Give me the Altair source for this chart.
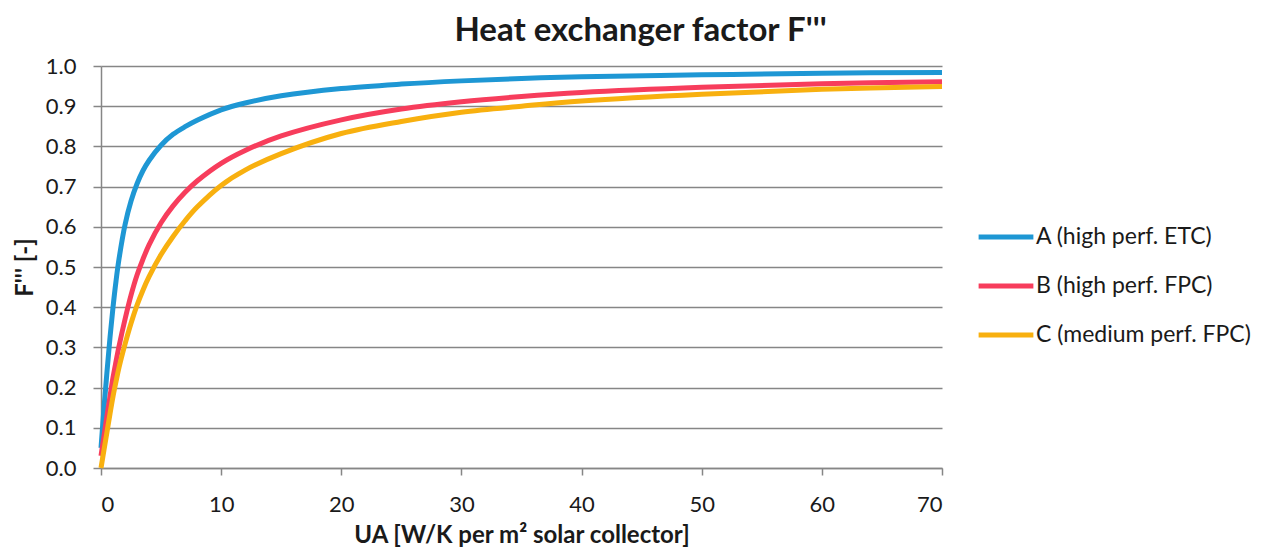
import altair as alt
import pandas as pd

ua = [0, 0.25, 0.5, 0.75, 1, 1.25, 1.5, 2, 2.5, 3, 3.5, 4, 5, 6, 7, 8, 10, 12, 15, 20, 25, 30, 35, 40, 50, 60, 70]
f_a = [0.05, 0.15, 0.24, 0.325, 0.40, 0.465, 0.52, 0.605, 0.664, 0.707, 0.74, 0.765, 0.803, 0.83, 0.849, 0.865, 0.891, 0.908, 0.926, 0.944, 0.955, 0.963, 0.969, 0.973, 0.978, 0.982, 0.984]
f_b = [0.03, 0.08, 0.13, 0.178, 0.225, 0.265, 0.303, 0.37, 0.43, 0.48, 0.52, 0.555, 0.61, 0.652, 0.686, 0.714, 0.758, 0.79, 0.826, 0.866, 0.893, 0.911, 0.924, 0.934, 0.947, 0.956, 0.961]
f_c = [0.0, 0.045, 0.09, 0.135, 0.178, 0.215, 0.25, 0.308, 0.36, 0.405, 0.443, 0.476, 0.531, 0.576, 0.615, 0.649, 0.703, 0.741, 0.782, 0.832, 0.862, 0.885, 0.900, 0.913, 0.93, 0.942, 0.949]

series_names = ["A (high perf. ETC)", "B (high perf. FPC)", "C (medium perf. FPC)"]
series_colors = ["#1E97D4", "#F73D5C", "#F8B00F"]

x_ticks = [0, 10, 20, 30, 40, 50, 60, 70]
y_ticks = [0.0, 0.1, 0.2, 0.3, 0.4, 0.5, 0.6, 0.7, 0.8, 0.9, 1.0]

rows = []
for name, vals in zip(series_names, [f_a, f_b, f_c]):
    for x, y in zip(ua, vals):
        rows.append({"UA": x, "F": y, "Series": name})
df = pd.DataFrame(rows)

FONT = "Lato"
GRAY = "#868686"
TXT = "#1a1a1a"

chart = alt.Chart(df).mark_line(strokeWidth=5, interpolate="catmull-rom").encode(
    x=alt.X("UA:Q",
            scale=alt.Scale(domain=[0, 70], nice=False, zero=True),
            axis=alt.Axis(values=x_ticks, title="UA [W/K per m² solar collector]",
                          grid=False, tickSize=7, labelPadding=19,
                          titlePadding=8)),
    y=alt.Y("F:Q",
            scale=alt.Scale(domain=[0, 1.0], nice=False),
            axis=alt.Axis(values=y_ticks, format=".1f", title="F''' [-]",
                          grid=True, tickSize=8, labelPadding=17,
                          titlePadding=8)),
    color=alt.Color("Series:N",
                    scale=alt.Scale(domain=series_names, range=series_colors),
                    legend=alt.Legend(title=None, orient="none", legendX=875, legendY=141,
                                      symbolType="stroke", symbolSize=3000,
                                      symbolStrokeWidth=5, labelFontSize=23,
                                      labelFont=FONT, labelColor=TXT, labelLimit=400,
                                      rowPadding=7, labelOffset=0)),
).properties(
    width=841, height=402,
    title=alt.TitleParams("Heat exchanger factor F'''", fontSize=33, font=FONT,
                          fontWeight="bold", color=TXT, dx=119, offset=7),
    padding={"left": 93, "top": 58, "right": 324, "bottom": 82},
    autosize=alt.AutoSizeParams(type="none"),
).configure_axis(
    labelFont=FONT, labelFontSize=22, labelColor=TXT,
    titleFont=FONT, titleFontSize=24, titleFontWeight="bold", titleColor=TXT,
    domainColor=GRAY, domainWidth=1.5, tickColor=GRAY, tickWidth=1.5,
    gridColor=GRAY, gridWidth=1.5,
).configure_view(stroke=None)

chart.save("out.html", embed_options={"renderer": "svg", "actions": False})
